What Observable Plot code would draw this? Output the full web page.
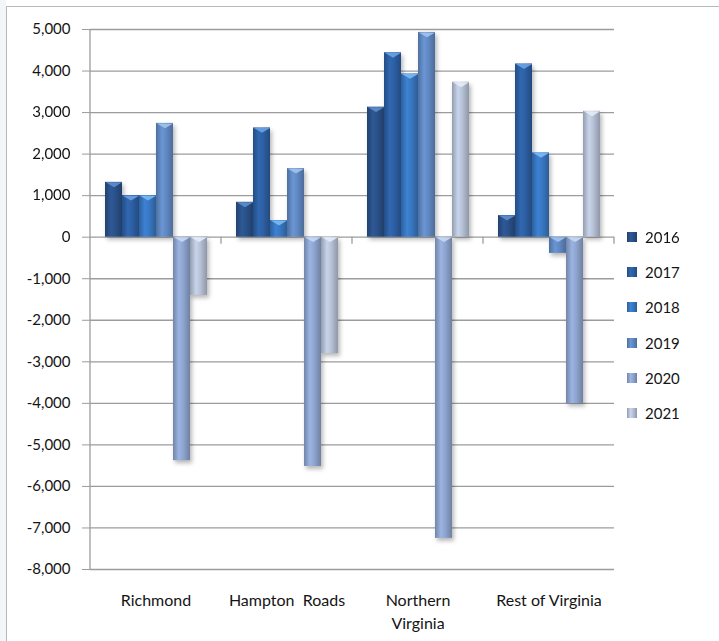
<!DOCTYPE html>
<html><head><meta charset="utf-8">
<script src="https://cdn.jsdelivr.net/npm/d3@7"></script>
<script src="https://cdn.jsdelivr.net/npm/@observablehq/plot@0.6"></script>
<style>
html,body{margin:0;padding:0;background:#fff;}
#wrap{position:relative;width:719px;height:641px;overflow:hidden;background:#fff;font-family:Lato,sans-serif;}
#edge{position:absolute;left:0;top:0;width:6px;height:641px;background:#f3f5f9;}
#frame{position:absolute;left:6px;top:6px;width:800px;height:700px;border-left:1.5px solid #b9b9b9;border-top:1.5px solid #b9b9b9;}
#chart{position:absolute;left:0;top:0;}
#legend{position:absolute;left:627px;top:219px;}
.item{display:flex;align-items:center;height:35.3px;font-size:15px;color:#141414;font-family:Lato,sans-serif;}
.item svg{margin-right:8px;}
</style></head><body>
<div id="wrap"><div id="edge"></div><div id="frame"></div><div id="chart"></div><div id="legend"></div></div>
<svg width="0" height="0" style="position:absolute"><defs id="defs"></defs></svg>
<script>
const regions = ["Richmond", "Hampton Roads", "Northern Virginia", "Rest of Virginia"];
const regionLabels = ["Richmond", "Hampton  Roads", "Northern\nVirginia", "Rest of Virginia"];
const years = ["2016", "2017", "2018", "2019", "2020", "2021"];
const v2016 = [1320, 840, 3130, 520];
const v2017 = [1000, 2630, 4440, 4170];
const v2018 = [1000, 400, 3930, 2030];
const v2019 = [2740, 1650, 4930, -390];
const v2020 = [-5380, -5520, -7250, -4010];
const v2021 = [-1400, -2800, 3730, 3030];
const yTicks = [5000, 4000, 3000, 2000, 1000, 0, -1000, -2000, -3000, -4000, -5000, -6000, -7000, -8000];
const baseColors = ["#2a5189", "#2d5fa3", "#3877c2", "#6189c3", "#8ea5cf", "#b7c2d7"];
const bevelColors = ["#5f8fcf", "#6aa3e6", "#7cbaf3", "#a3c3ec", "#c9d9f2", "#e6ecf6"];

const series = [v2016, v2017, v2018, v2019, v2020, v2021];
const data = years.flatMap((yr, i) => regions.map((r, j) => ({region: r, year: yr, value: series[i][j]})));

// gradients
const defs = d3.select("#defs");
years.forEach((yr, i) => {
  const c = d3.color(baseColors[i]);
  const g = defs.append("linearGradient").attr("id", "grad" + yr).attr("x1", "0").attr("x2", "1").attr("y1", "0").attr("y2", "0");
  g.append("stop").attr("offset", "0%").attr("stop-color", c.darker(0.6));
  g.append("stop").attr("offset", "35%").attr("stop-color", c.brighter(0.25));
  g.append("stop").attr("offset", "60%").attr("stop-color", c);
  g.append("stop").attr("offset", "100%").attr("stop-color", c.darker(0.7));
});

// flat downward triangle (bevel highlight at the top edge of each bar)
const bevel = {
  draw(context, size) {
    const r = Math.sqrt(size / Math.PI);
    context.moveTo(-r, 0);
    context.lineTo(r, 0);
    context.lineTo(0, r * 0.6);
    context.closePath();
  }
};

const chart = Plot.plot({
  width: 719, height: 641,
  marginLeft: 90, marginRight: 105, marginTop: 29, marginBottom: 72,
  style: {fontFamily: "Lato, sans-serif", fontSize: "15px", color: "#141414", background: "transparent"},
  fx: {domain: regions, paddingInner: 0, paddingOuter: 0, label: null},
  x: {domain: years, paddingInner: 0, paddingOuter: 0.75, axis: null},
  y: {domain: [-8000, 5000], label: null},
  color: {domain: years, range: years.map(yr => `url(#grad${yr})`)},
  marks: [
    Plot.gridY(yTicks, {stroke: "#9c9c9c", strokeOpacity: 1, strokeWidth: 1.3}),
    Plot.barY(data, {fx: "region", x: "year", y: "value", fill: "year"}),
    Plot.dot(data, {fx: "region", x: "year", y: d => Math.max(d.value, 0), symbol: bevel, r: 8.2,
      fill: d => bevelColors[years.indexOf(d.year)], fillOpacity: 0.9, stroke: "none"}),
    Plot.axisY(yTicks, {tickSize: 8, tickPadding: 12, stroke: "#9c9c9c", strokeOpacity: 1, tickFormat: d => d.toLocaleString("en-US"), fontSize: 15, fill: "#141414"}),
    Plot.axisFx({anchor: "bottom", tickSize: 0, tickPadding: 20, lineHeight: 1.45, fontSize: 16, fill: "#141414",
      tickFormat: d => regionLabels[regions.indexOf(d)], label: null})
  ]
});
document.getElementById("chart").appendChild(chart);

// axis line and category boundary ticks
const svg = d3.select(chart);
const fx = chart.scale("fx"), y = chart.scale("y");
const left = fx.apply(regions[0]);
svg.selectAll("g[aria-label='bar']").style("filter", "drop-shadow(2px 3px 2px rgba(0,0,0,0.28))");
const deco = svg.append("g").attr("stroke", "#9c9c9c").attr("stroke-width", 1.3);
deco.append("line").attr("x1", left).attr("x2", left).attr("y1", y.apply(5000)).attr("y2", y.apply(-8000));
regions.forEach(r => {
  const xe = fx.apply(r) + fx.bandwidth;
  deco.append("line").attr("x1", xe).attr("x2", xe).attr("y1", y.apply(0)).attr("y2", y.apply(0) + 7);
});

// legend
const legend = d3.select("#legend");
years.forEach(yr => {
  const it = legend.append("div").attr("class", "item");
  const s = it.append("svg").attr("width", 10).attr("height", 10);
  s.append("rect").attr("width", 10).attr("height", 10).attr("fill", `url(#grad${yr})`);
  it.append("span").text(yr);
});
</script>
</body></html>
